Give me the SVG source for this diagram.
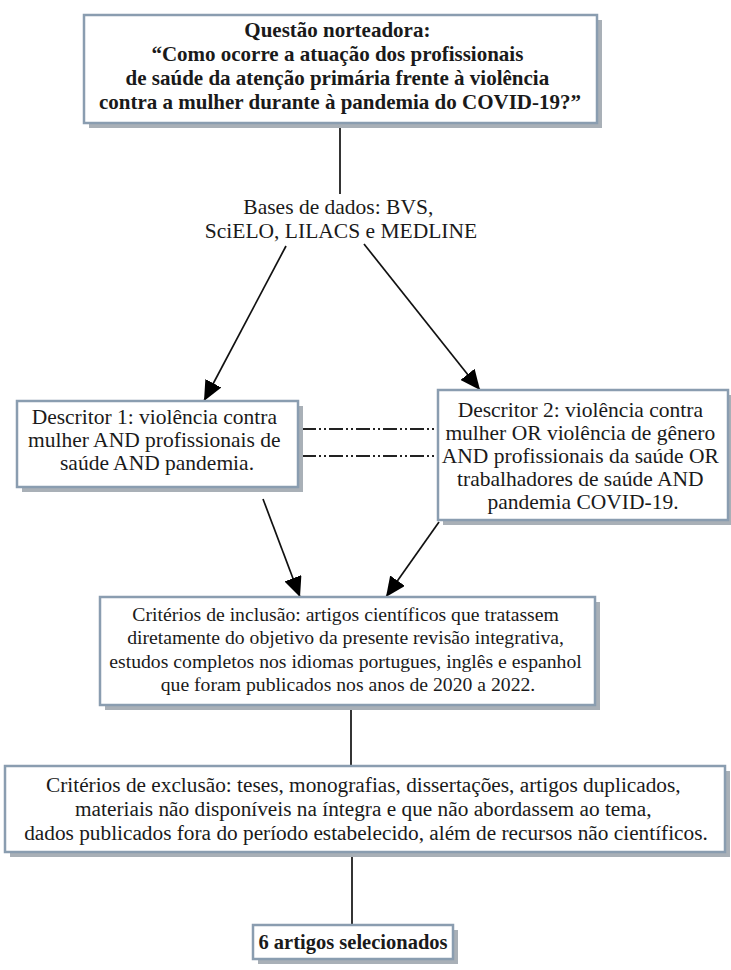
<svg xmlns="http://www.w3.org/2000/svg" width="731" height="970" viewBox="0 0 731 970">
<style>
.bg{fill:#ffffff}
.box{fill:#ffffff;stroke:#8a9db0;stroke-width:2.5}
.shadow{fill:#a9b0b7}
.t{font-family:"Liberation Serif","Times New Roman",serif;font-size:21.5px;fill:#1a1a1a;text-anchor:middle}
.b{font-weight:bold}
.s21{font-size:21px}
.s20{font-size:19.7px}
.s213{font-size:21.3px}
.s205{font-size:20.5px}
.ln{stroke:#111;stroke-width:1.7;fill:none}
.dd{stroke:#222;stroke-width:2;fill:none;stroke-dasharray:14 3 2 3 2 3}
</style>
<defs>
<marker id="ah" markerUnits="userSpaceOnUse" markerWidth="20" markerHeight="18" refX="20" refY="9" orient="auto">
<path d="M0,0 L20,9 L0,18 z" fill="#000"/>
</marker>
</defs>
<rect class="bg" x="0" y="0" width="731" height="970"/>

<g id="connectors">
<line class="ln" x1="340" y1="128" x2="340" y2="194"/>
<line class="ln" x1="286" y1="246" x2="204" y2="401" marker-end="url(#ah)"/>
<line class="ln" x1="364" y1="244" x2="480" y2="390" marker-end="url(#ah)"/>
<line class="ln" x1="263" y1="499" x2="300" y2="597" marker-end="url(#ah)"/>
<line class="ln" x1="439" y1="522" x2="386" y2="597" marker-end="url(#ah)"/>
<line class="dd" x1="302" y1="429" x2="437" y2="429"/>
<line class="dd" x1="302" y1="456" x2="437" y2="456"/>
<line class="ln" x1="351" y1="710" x2="351" y2="766"/>
<line class="ln" x1="352" y1="856" x2="352" y2="925"/>
</g>

<g id="questao">
<rect class="shadow" x="89" y="20" width="513" height="108"/>
<rect class="box" x="84" y="15" width="513" height="108"/>
<text class="t b s21">
<tspan x="340" y="37">Questão norteadora:</tspan>
<tspan x="340" y="61">“Como ocorre a atuação dos profissionais</tspan>
<tspan x="340" y="85">de saúde da atenção primária frente à violência</tspan>
<tspan x="340" y="109">contra a mulher durante à pandemia do COVID-19?”</tspan>
</text>
</g>

<g id="bases">
<text class="t">
<tspan x="341" y="214">Bases de dados: BVS,</tspan>
<tspan x="341" y="238">SciELO, LILACS e MEDLINE</tspan>
</text>
</g>

<g id="descritor1">
<rect class="shadow" x="22" y="406" width="281" height="86"/>
<rect class="box" x="17" y="401" width="281" height="86"/>
<text class="t">
<tspan x="157" y="424">Descritor 1: violência contra</tspan>
<tspan x="157" y="447">mulher AND profissionais de</tspan>
<tspan x="157" y="470">saúde AND pandemia.</tspan>
</text>
</g>

<g id="descritor2">
<rect class="shadow" x="443" y="395" width="290" height="130"/>
<rect class="box" x="438" y="390" width="290" height="130"/>
<text class="t">
<tspan x="583" y="417">Descritor 2: violência contra</tspan>
<tspan x="583" y="440">mulher OR violência de gênero</tspan>
<tspan x="583" y="463">AND profissionais da saúde OR</tspan>
<tspan x="583" y="486">trabalhadores de saúde AND</tspan>
<tspan x="583" y="509">pandemia COVID-19.</tspan>
</text>
</g>

<g id="inclusao">
<rect class="shadow" x="105" y="602" width="495" height="108"/>
<rect class="box" x="100" y="597" width="495" height="108"/>
<text class="t s20">
<tspan x="348" y="621">Critérios de inclusão: artigos científicos que tratassem</tspan>
<tspan x="348" y="644">diretamente do objetivo da presente revisão integrativa,</tspan>
<tspan x="348" y="668">estudos completos nos idiomas portugues, inglês e espanhol</tspan>
<tspan x="348" y="691">que foram publicados nos anos de 2020 a 2022.</tspan>
</text>
</g>

<g id="exclusao">
<rect class="shadow" x="10" y="771" width="720" height="86"/>
<rect class="box" x="5" y="766" width="720" height="86"/>
<text class="t s213">
<tspan x="366" y="792">Critérios de exclusão: teses, monografias, dissertações, artigos duplicados,</tspan>
<tspan x="366" y="816">materiais não disponíveis na íntegra e que não abordassem ao tema,</tspan>
<tspan x="366" y="840">dados publicados fora do período estabelecido, além de recursos não científicos.</tspan>
</text>
</g>

<g id="selecionados">
<rect class="shadow" x="258" y="930" width="200" height="34"/>
<rect class="box" x="253" y="925" width="200" height="34"/>
<text class="t b s205" x="353" y="949">6 artigos selecionados</text>
</g>
</svg>
